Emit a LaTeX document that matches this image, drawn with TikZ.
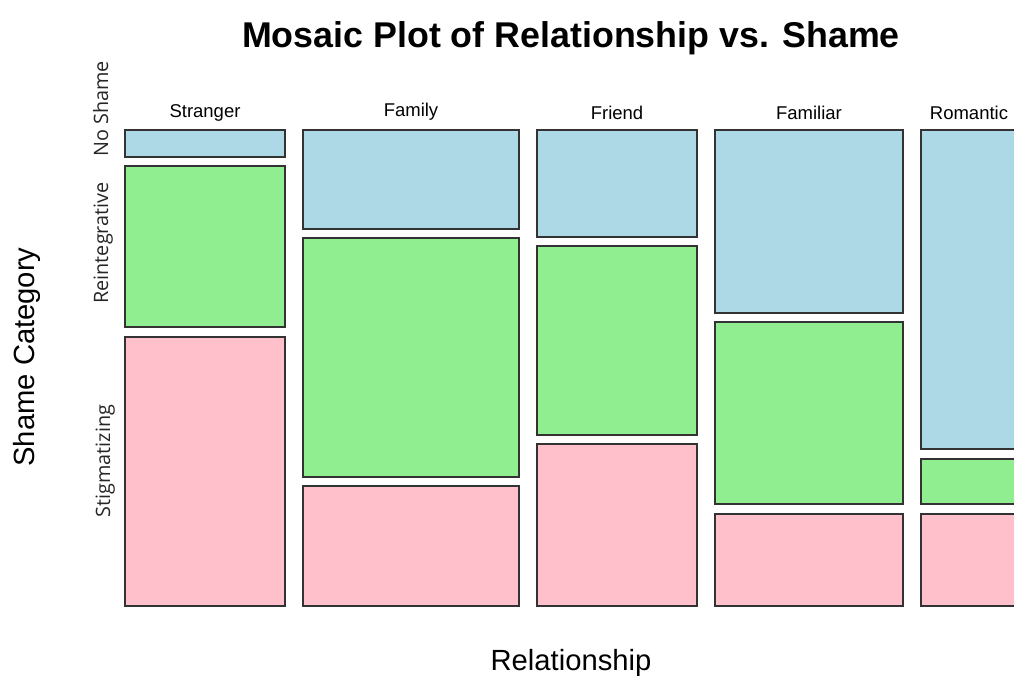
\documentclass[tikz,border=0pt]{standalone}
\usepackage{fontspec}
\setmainfont{Liberation Sans}
\newfontfamily\osans{Open Sans}
\definecolor{cblue}{HTML}{ADD8E6}
\definecolor{cgreen}{HTML}{90EE90}
\definecolor{cpink}{HTML}{FFC0CB}
\definecolor{cedge}{HTML}{333333}
\tikzset{
  cellbox/.style={draw=cedge, line width=1.4pt, inner sep=0pt, outer sep=0pt},
  collabel/.style={anchor=base, inner sep=0pt, font=\fontsize{18.5}{20}\selectfont},
  rowlabel/.style={anchor=base, rotate=90, inner sep=0pt, font=\osans\fontsize{19.8}{22}\selectfont, text=black!85},
  axislabel/.style={anchor=base, inner sep=0pt, font=\fontsize{29.2}{32}\selectfont},
  titlelabel/.style={anchor=base, inner sep=0pt, font=\bfseries\fontsize{35.8}{40}\selectfont}
}
\newcommand\mcell[6]{%
  \node[cellbox, fill=#6, minimum width={(#4-#2)*1pt}, minimum height={(#5-#3)*1pt}]
    (#1) at ({(#2+#4)/2},{(#3+#5)/2}) {};}
\begin{document}
\begin{tikzpicture}[x=1pt,y=-1pt]
\useasboundingbox (0,0) rectangle (1014,675);
\begin{scope}
\clip (0,0) rectangle (1014,675);
% Stranger
\mcell{strNo}{125}{130}{285}{157}{cblue}
\mcell{strRe}{125}{166}{285}{327}{cgreen}
\mcell{strSt}{125}{337}{285}{606}{cpink}
% Family
\mcell{famNo}{303}{130}{519}{229}{cblue}
\mcell{famRe}{303}{238}{519}{477}{cgreen}
\mcell{famSt}{303}{486}{519}{606}{cpink}
% Friend
\mcell{friNo}{537}{130}{697}{237}{cblue}
\mcell{friRe}{537}{246}{697}{435}{cgreen}
\mcell{friSt}{537}{444}{697}{606}{cpink}
% Familiar
\mcell{fmlNo}{715}{130}{903}{313}{cblue}
\mcell{fmlRe}{715}{322}{903}{504}{cgreen}
\mcell{fmlSt}{715}{514}{903}{606}{cpink}
% Romantic
\mcell{romNo}{921}{130}{1018}{449}{cblue}
\mcell{romRe}{921}{459}{1018}{504}{cgreen}
\mcell{romSt}{921}{514}{1018}{606}{cpink}
\end{scope}
% column labels
\node[collabel] (lStr) at (205,117) {Stranger};
\node[collabel] (lFam) at (411,116) {Family};
\node[collabel] (lFri) at (617,119) {Friend};
\node[collabel] (lFml) at (809,119) {Familiar};
\node[collabel] (lRom) at (969,119) {Romantic};
% row labels
\node[rowlabel] (rNo) at (108,109) {No Shame};
\node[rowlabel] (rRe) at (108,243) {Reintegrative};
\node[rowlabel] (rSt) at (110,461) {Stigmatizing};
% axis labels and title
\node[axislabel, rotate=90] (ylab) at (34,357) {Shame Category};
\node[axislabel] (xlab) at (571,670) {Relationship};
\node[titlelabel] (title) at (571,47) {Mosaic Plot of Relationship vs. Shame};
\end{tikzpicture}
\end{document}
